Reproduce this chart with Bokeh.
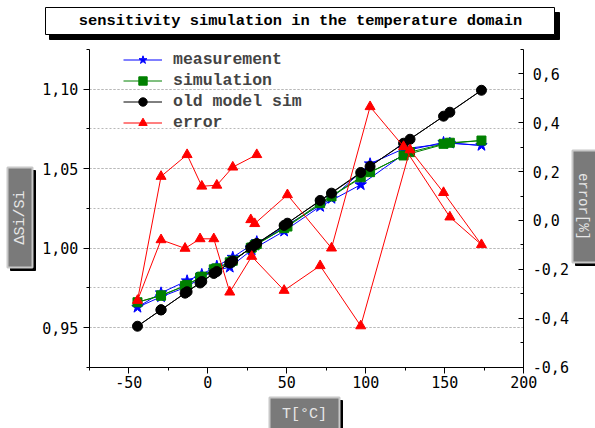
import numpy as np
from bokeh.plotting import figure
from bokeh.models import (Range1d, LinearAxis, SingleIntervalTicker, Grid,
                          CustomJSTickFormatter, BoxAnnotation, Label)
from bokeh.embed import file_html
from bokeh.resources import INLINE

# ---------------- data (in measurement order: heat up, cool down, heat up) -------------
T = [27.2, 29.7, 50.4, 78.3, 102.7, 123.9, 153.2, 173.2, 149.2, 128.0, 96.8, 71.1,
     48.3, 27.8, 13.9, 3.8, -4.9, -14.4, -29.6, -44.5, -29.6, -13.1, -3.8, 5.7,
     15.8, 31.0]

measurement = [1.0001, 1.0017, 1.0146, 1.0312, 1.0530, 1.0624, 1.0659, 1.0645,
               1.0664, 1.0618, 1.0398, 1.0261, 1.0106, 0.9988, 0.9879, 0.9858,
               0.9806, 0.9751, 0.9693, 0.9627, 0.9718, 0.9794, 0.9834, 0.9886,
               0.9942, 1.0040]

simulation = [1.0001, 1.0018, 1.0135, 1.0324, 1.0477, 1.0582, 1.0662, 1.0676,
              1.0655, 1.0603, 1.0445, 1.0282, 1.0125, 1.0003, 0.9910, 0.9866,
              0.9814, 0.9762, 0.9700, 0.9659, 0.9702, 0.9768, 0.9820, 0.9872,
              0.9920, 1.0025]

old_model_sim = [1.0001, 1.0020, 1.0156, 1.0345, 1.0513, 1.0659, 1.0854, 1.0992,
                 1.0829, 1.0684, 1.0475, 1.0299, 1.0142, 1.0005, 0.9905, 0.9840,
                 0.9780, 0.9716, 0.9611, 0.9508, 0.9611, 0.9725, 0.9789, 0.9852,
                 0.9918, 1.0028]

error = [0.003, -0.013, 0.105, -0.113, 0.465, 0.302, 0.014, -0.099, 0.114, 0.289,
         -0.431, -0.185, -0.286, -0.147, -0.293, -0.075, -0.075, -0.114, -0.079,
         -0.327, 0.180, 0.269, 0.140, 0.144, 0.218, 0.269]

x_bounds = (-75, 200)
y_bounds = (0.925, 1.125)
err_bounds = (-0.6, 0.7)

title_text = "sensitivity simulation in the temperature domain"
x_label = "T[°C]"
y_label = "ΔSi/Si"
y2_label = "error[%]"

# ---------------- layout: frame covers the whole canvas, axes pinned -------------
W, H = 595, 428
AX_L, AX_R, AX_T, AX_B = 88.8, 523.3, 48.75, 366.75   # pixel box of the axes


def full_range(lo, hi, p_lo, p_hi, size):
    # pixel p_lo <-> value lo, p_hi <-> value hi ; extend linearly to 0..size
    k = (hi - lo) / (p_hi - p_lo)
    return Range1d(lo - p_lo * k, lo + (size - p_lo) * k)


xr = full_range(x_bounds[0], x_bounds[1], AX_L, AX_R, W)
# y measured from the bottom of the canvas
yr = full_range(y_bounds[0], y_bounds[1], H - AX_B, H - AX_T, H)
er = full_range(err_bounds[0], err_bounds[1], H - AX_B, H - AX_T, H)

p = figure(width=W, height=H, output_backend="svg", toolbar_location=None,
           x_range=xr, y_range=yr, x_axis_type=None, y_axis_type=None,
           min_border=0, min_border_left=0, min_border_right=0,
           min_border_top=0, min_border_bottom=0)
p.outline_line_color = None
p.background_fill_color = "white"
p.border_fill_color = "white"
p.extra_y_ranges = {"err": er}

TICK_FONT = "DejaVu Sans Mono"
TICK_SIZE = "15px"
eps = 1e-6

xt = SingleIntervalTicker(interval=50, num_minor_ticks=2)
yt = SingleIntervalTicker(interval=0.05, num_minor_ticks=2)
rt = SingleIntervalTicker(interval=0.2, num_minor_ticks=2)

xa = LinearAxis(ticker=xt, fixed_location=y_bounds[0],
                bounds=(x_bounds[0] - eps * 100, x_bounds[1] + eps * 100),
                formatter=CustomJSTickFormatter(code="return tick.toFixed(0);"))
xa.major_tick_out, xa.major_tick_in = 6, 0
xa.minor_tick_out, xa.minor_tick_in = 3, 0
xa.major_label_standoff = 3

ya = LinearAxis(ticker=yt, fixed_location=x_bounds[0],
                bounds=(y_bounds[0] - eps, y_bounds[1] + eps),
                formatter=CustomJSTickFormatter(code="return tick.toFixed(2).replace('.', ',');"))
ya.major_tick_out, ya.major_tick_in = 6, 0
ya.minor_tick_out, ya.minor_tick_in = 3, 0
ya.major_label_standoff = 5

ra = LinearAxis(ticker=rt, y_range_name="err", fixed_location=x_bounds[1],
                bounds=(err_bounds[0] - eps, err_bounds[1] + eps),
                formatter=CustomJSTickFormatter(code="return tick.toFixed(1).replace('.', ',');"))
ra.major_tick_out, ra.major_tick_in = 0, 5
ra.minor_tick_out, ra.minor_tick_in = 0, 3
ra.major_label_standoff = 9

for ax in (xa, ya, ra):
    ax.axis_line_color = "black"
    ax.axis_line_width = 1
    ax.major_tick_line_color = "black"
    ax.minor_tick_line_color = "black"
    ax.major_label_text_font = TICK_FONT
    ax.major_label_text_font_size = TICK_SIZE
    ax.major_label_text_color = "black"

p.add_layout(xa, "below")
p.add_layout(ya, "left")
p.add_layout(ra, "right")

GRID_COLOR = "#b8b8b8"
if "cross_bounds" in Grid.properties():
    yg = Grid(dimension=1, ticker=yt, bounds=(0.93, 1.12), cross_bounds=x_bounds,
              grid_line_color=GRID_COLOR, grid_line_dash="2 2",
              minor_grid_line_color=GRID_COLOR, minor_grid_line_dash="2 2")
    p.add_layout(yg)
else:
    gy = list(np.arange(0.95, 1.1001, 0.025))
    p.segment(x0=[x_bounds[0]] * len(gy), x1=[x_bounds[1]] * len(gy), y0=gy, y1=gy,
              line_color=GRID_COLOR, line_dash="2 2", line_width=1, level="underlay")

# ---------------- series -------------
p.line(T, measurement, color="#0000ff", line_width=1, legend_label="measurement")
p.scatter(T, measurement, marker="star", size=12, color="#0000ff", legend_label="measurement")

p.line(T, simulation, color="#008000", line_width=1, legend_label="simulation")
p.scatter(T, simulation, marker="square", size=9, color="#008000", legend_label="simulation")

p.line(T, old_model_sim, color="black", line_width=1, legend_label="old model sim")
p.scatter(T, old_model_sim, marker="circle", size=10, color="black", legend_label="old model sim")

p.line(T, error, color="#ff0000", line_width=1, y_range_name="err", legend_label="error")
p.scatter(T, error, marker="triangle", size=10, color="#ff0000", y_range_name="err",
          legend_label="error")

lg = p.legend[0]
lg.location = (123, H - 47.5 - 85)
lg.margin = 0
lg.padding = 0
lg.spacing = 0
lg.glyph_width = 39
lg.glyph_height = 21
lg.label_height = 21
lg.label_standoff = 11
lg.label_text_font = "Liberation Mono"
lg.label_text_font_style = "bold"
lg.label_text_font_size = "16.5px"
lg.border_line_color = None
lg.background_fill_alpha = 0


# ---------------- decorations (page pixel coordinates) -------------
def box(x0, y0, x1, y1, fill, line=None, lw=1):
    b = BoxAnnotation(left=x0, right=x1, top=H - y0, bottom=H - y1,
                      left_units="screen", right_units="screen",
                      top_units="screen", bottom_units="screen",
                      fill_color=fill, fill_alpha=1.0,
                      line_color=line if line else fill, line_width=lw, line_alpha=1.0)
    p.add_layout(b)


def text(X, Y, s, font, size, color, style="normal", angle=0.0):
    p.add_layout(Label(x=X, y=H - Y, x_units="screen", y_units="screen", text=s,
                       text_font=font, text_font_size=size, text_font_style=style,
                       text_color=color, text_align="center", text_baseline="middle",
                       angle=angle))


# title box with shadow
box(49, 12, 559, 39, "black")
box(45, 7, 554, 34, "white", "black", 1)
text(300, 20, title_text, "Liberation Mono", "15.4px", "black", "bold")

# left axis label box
box(10, 170, 35, 270, "black")
box(7, 167, 32, 267, "#7a7a7a", "#c8c8c8", 2)
text(19.5, 217, y_label, "Liberation Mono", "15px", "#e6e6e6", "normal", np.pi / 2)

# right axis label box
box(575, 153, 600, 265, "black")
box(572, 150, 597, 262, "#7a7a7a", "#c8c8c8", 2)
text(582, 206, y2_label, "Liberation Mono", "14px", "#e6e6e6", "normal", -np.pi / 2)

# bottom axis label box
box(272, 400, 342, 431, "black")
box(269, 397, 339, 430, "#7a7a7a", "#c8c8c8", 2)
text(304, 414, x_label, "Liberation Mono", "15px", "#e6e6e6", "normal")

open("out.html", "w").write(file_html(p, INLINE))
